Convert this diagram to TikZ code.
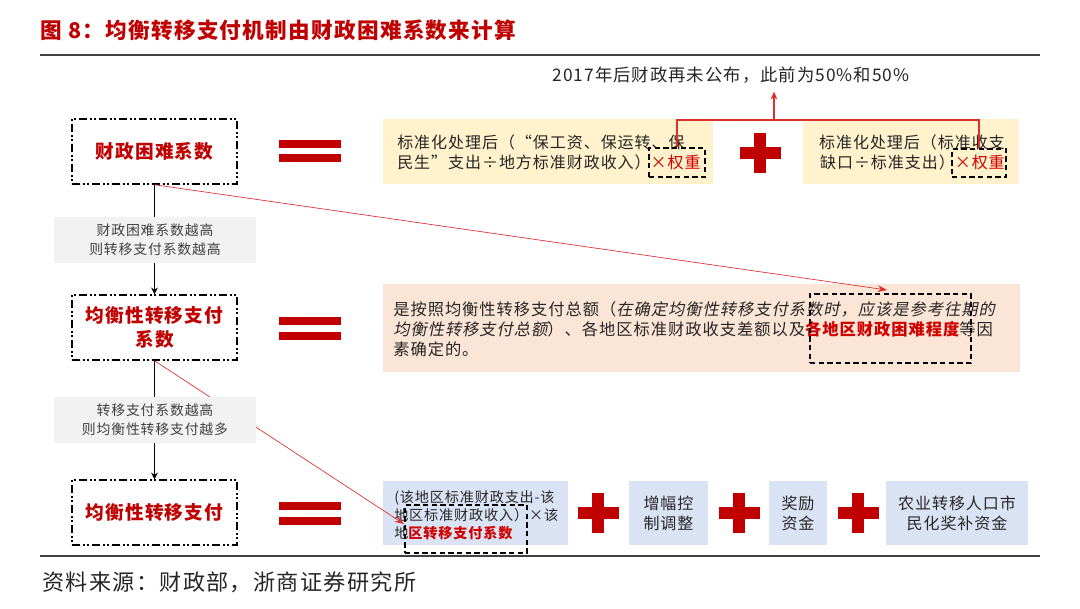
\documentclass[tikz,border=0pt]{standalone}
\usepackage{fontspec}
\setmainfont{Noto Sans CJK SC}[LetterSpace=6]
\newfontfamily\itcjk{Noto Sans CJK SC}[FakeSlant=0.2,LetterSpace=6]
\usetikzlibrary{arrows.meta,calc}
\definecolor{dred}{HTML}{C00000}
\definecolor{tred}{HTML}{D00000}
\definecolor{lred}{HTML}{DE2F2F}
\definecolor{yfill}{HTML}{FFF2CC}
\definecolor{pfill}{HTML}{FBE5D6}
\definecolor{bfill}{HTML}{DAE3F3}
\definecolor{gfill}{HTML}{F2F2F2}
\definecolor{gtext}{HTML}{404040}
\definecolor{rulec}{HTML}{404040}
\definecolor{bodyc}{HTML}{262626}
\tikzset{
  lbox/.style={draw=black, line width=1.1pt, dash pattern=on 6pt off 2.2pt on 1.2pt off 2.2pt on 1.2pt off 2.2pt,
    minimum width=123.75pt, minimum height=48.75pt, inner sep=0pt, text=dred,
    font=\fontsize{14}{18}\selectfont\bfseries, align=center},
  gbox/.style={fill=gfill, minimum width=151.5pt, minimum height=34.5pt, inner sep=0pt, text=gtext,
    font=\fontsize{10.4}{14.25}\selectfont, align=center},
  fillbox/.style={inner sep=0pt, minimum height=48.75pt},
  dbox/.style={draw=black, line width=1.3pt, dash pattern=on 4pt off 2.5pt, inner sep=0pt},
  btext/.style={font=\fontsize{12}{15}\selectfont, inner sep=0pt, text=bodyc},
  blk/.style={line width=1.1pt, -{Stealth[length=5pt,width=5pt]}},
  rl/.style={draw=lred, line width=0.5pt},
  rlt/.style={draw=lred, line width=1.1pt},
  pluss/.pic={\fill[dred] (-20.5,-6) rectangle (20.5,6); \fill[dred] (-6,-20) rectangle (6,20);}
}
\begin{document}
\begin{tikzpicture}[x=0.75pt,y=-0.75pt]
\useasboundingbox (0,0) rectangle (1080,609);
\fill[white] (0,0) rectangle (1080,609);
% title and rules
\node[anchor=west, inner sep=0pt, text=dred, font=\fontsize{16.2}{20}\selectfont\bfseries] (title) at (40,30) {图 8：均衡转移支付机制由财政困难系数来计算};
\draw[rulec, line width=1.5pt] (40,55) -- (1040,55);
\draw[rulec, line width=1.5pt] (40,556) -- (1040,556);
\node[anchor=west, inner sep=0pt, text=bodyc, font=\fontsize{16.6}{20}\selectfont] (src) at (42,582) {资料来源：财政部，浙商证券研究所};

% left boxes
\node[lbox] (box1) at (154.5,151.5) {财政困难系数};
\node[lbox] (box2) at (154.5,327.5) {均衡性转移支付\\系数};
\node[lbox] (box3) at (154.5,512.5) {均衡性转移支付};

% equals
\foreach \yy in {140,317,502}{
  \fill[dred] (279,\yy) rectangle (341,\yy+8);
  \fill[dred] (279,\yy+14.5) rectangle (341,\yy+22.5);
}

% row 1
\node[fillbox, fill=yfill, minimum width=247.5pt] (y1) at (548,151.5) {};
\node[fillbox, fill=yfill, minimum width=162pt] (y2) at (911,151.5) {};
\node[btext, anchor=west, align=left] (t1) at (397,152.5) {标准化处理后（“保工资、保运转、保\\民生”支出÷地方标准财政收入）{\color{tred}×权重}};
\node[btext, anchor=east, align=right] (t2) at (1005,152.5) {标准化处理后（标准收支\\缺口÷标准支出）{\color{tred}×权重}};
\pic at (760,153) {pluss};
\node[dbox, minimum width=42pt, minimum height=21.75pt] (dA) at (677,162.5) {};
\node[dbox, minimum width=40.5pt, minimum height=21pt] (dB) at (979,163) {};
\node[btext, font=\fontsize{13}{15}\selectfont, inner ysep=6pt] (note) at (731,75) {2017年后财政再未公布，此前为50\%和50\%};
\coordinate (hy) at (774,120);
\draw[rlt] (dA.north) -- (dA.north |- hy) -- (dB.north |- hy) -- (dB.north);
\draw[rlt, -{Stealth[length=6pt,width=5pt]}] (hy) -- (hy |- note.south);

% row 2
\node[fillbox, fill=pfill, minimum width=477.75pt, minimum height=66pt] (pink) at (701.5,328) {};
\node[btext, font=\fontsize{12.2}{15}\selectfont, anchor=west, align=left] (t3) at (393,329.5) {是按照均衡性转移支付总额（{\itcjk 在确定均衡性转移支付系数时，应该是参考往期的}\\{\itcjk 均衡性转移支付总额}）、各地区标准财政收支差额以及{\color{tred}\bfseries 各地区财政困难程度}等因\\素确定的。};
\node[dbox, minimum width=120.75pt, minimum height=51.75pt] (dC) at (890.5,328.5) {};
\coordinate (tipC) at (887,290);

% row 3
\node[fillbox, fill=bfill, minimum width=138.75pt, minimum height=48pt] (b1) at (475.5,513) {};
\node[fillbox, fill=bfill, minimum width=59.25pt, minimum height=48pt, btext, align=center] (b2) at (668.5,513) {增幅控\\制调整};
\node[fillbox, fill=bfill, minimum width=43.5pt, minimum height=48pt, btext, align=center] (b3) at (798,513) {奖励\\资金};
\node[fillbox, fill=bfill, minimum width=106.5pt, minimum height=48pt, btext, align=center] (b4) at (957,513) {农业转移人口市\\民化奖补资金};
\node[btext, font=\fontsize{10.6}{13.5}\selectfont, anchor=west, align=left] (t4) at (394,515) {(该地区标准财政支出-该\\地区标准财政收入）×该\\地{\color{tred}\bfseries 区转移支付系数}};
\node[dbox, minimum width=91.5pt, minimum height=36pt] (dD) at (466,529) {};
\coordinate (tipD) at (404,524);
\pic at (598,513) {pluss};
\pic at (739,513) {pluss};
\pic at (858,513) {pluss};

% connectors
\draw[blk] (box1.south) -- (box2.north);
\draw[blk] (box2.south) -- (box3.north);
\draw[rl, -{Stealth[length=7pt,width=5pt]}] (box1.south) -- (tipC);
\draw[rl, -{Stealth[length=7pt,width=5pt]}] (box2.south) -- (tipD);

% gray notes on top
\node[gbox] (g1) at (155,240) {财政困难系数越高\\则转移支付系数越高};
\node[gbox] (g2) at (155,420) {转移支付系数越高\\则均衡性转移支付越多};
\end{tikzpicture}
\end{document}
